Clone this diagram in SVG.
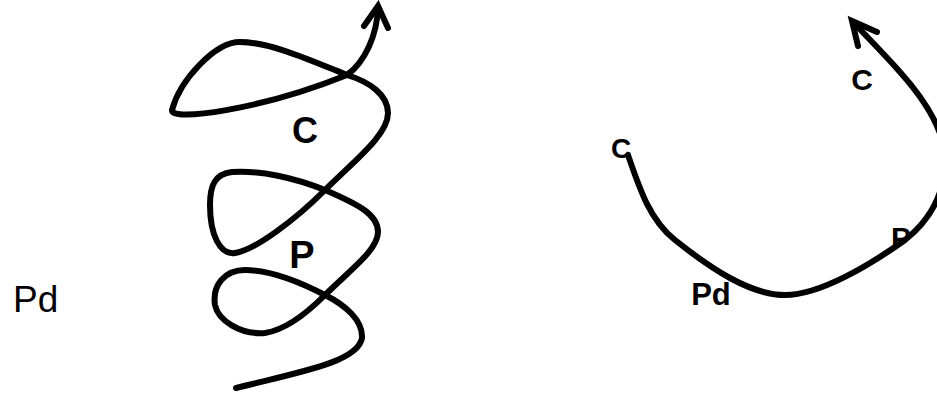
<svg xmlns="http://www.w3.org/2000/svg" width="937" height="393" viewBox="0 0 937 393">
<style>
.ln{fill:none;stroke:#000;stroke-width:6;stroke-linecap:round;stroke-linejoin:round}
.b{font-family:"Liberation Sans",Arial,sans-serif;font-weight:bold;fill:#000}
.r{font-family:"Liberation Sans",Arial,sans-serif;fill:#000}
</style>
<rect width="937" height="393" fill="#fff"/>
<g id="label-pd-left"><text class="r" x="13" y="312" font-size="37">Pd</text></g>
<g id="label-c-left"><text class="b" x="305" y="143" font-size="36" text-anchor="middle">C</text></g>
<g id="label-p-left"><text class="b" x="302" y="268" font-size="38" text-anchor="middle">P</text></g>
<g id="label-c-start"><text class="b" x="621" y="158" font-size="28" text-anchor="middle">C</text></g>
<g id="label-c-end"><text class="b" x="862" y="90" font-size="30" text-anchor="middle">C</text></g>
<g id="label-p-right"><text class="b" x="901" y="248" font-size="30" text-anchor="middle">P</text></g>
<g id="label-pd-right"><text class="b" x="711" y="305" font-size="31" text-anchor="middle">Pd</text></g>
<g id="connectors">
<path class="ln" d="M 236 388 C 300 372, 358 362, 362 338 C 363 320, 345 305, 325 295 C 300 282, 270 270, 245 270 C 225 270, 212 285, 215 305 C 218 320, 240 335, 265 333 C 285 330, 305 315, 325 295 C 350 270, 378 250, 378 232 C 378 215, 360 205, 325 190 C 295 178, 260 170, 232 172 C 215 174, 210 185, 210 205 C 210 235, 220 255, 235 253 C 255 250, 295 220, 325 190 C 355 160, 388 135, 388 113 C 388 95, 370 82, 347 75 C 310 60, 270 42, 240 42 C 215 42, 180 80, 172 110 C 170 122, 260 110, 347 75 C 365 62, 377 35, 378 8"/>
<polyline class="ln" style="stroke-linejoin:miter" points="364,26 378,6 388,28"/>
<path class="ln" d="M 628 155 C 640 190, 650 220, 675 240 C 710 268, 750 295, 785 295 C 820 295, 870 265, 905 240 C 930 220, 945 195, 945 160 C 945 130, 925 100, 900 72 C 885 55, 870 40, 855 24"/>
<polyline class="ln" style="stroke-linejoin:miter" points="858,46 852,21 877,32"/>
</g>
</svg>
